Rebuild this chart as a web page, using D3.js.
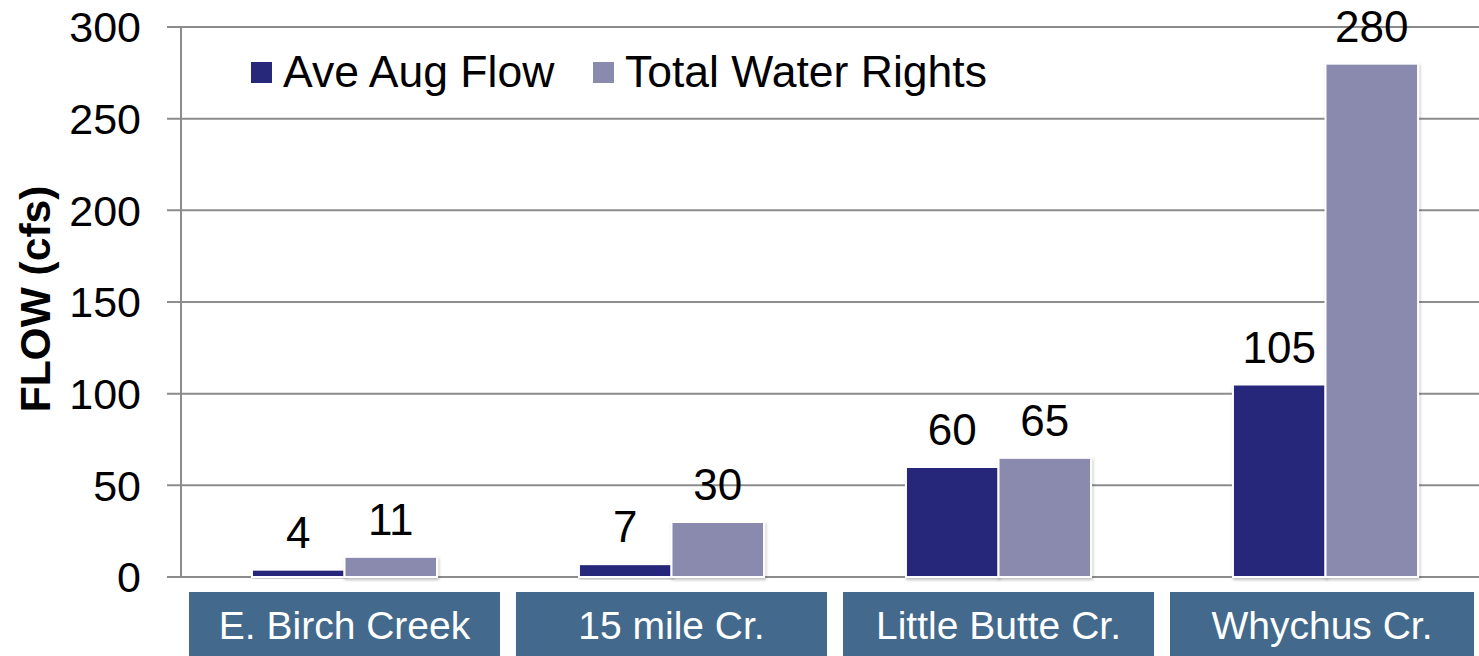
<!DOCTYPE html>
<html>
<head>
<meta charset="utf-8">
<script src="https://cdn.jsdelivr.net/npm/d3@7"></script>
<style>
  body { margin: 0; background: #fff; }
  text { font-family: "Liberation Sans", Arial, sans-serif; }
</style>
</head>
<body>
<svg id="chart" width="1479" height="656"></svg>
<script>
// data
var categories = ["E. Birch Creek", "15 mile Cr.", "Little Butte Cr.", "Whychus Cr."];
var seriesNames = ["Ave Aug Flow", "Total Water Rights"];
var aveAugFlow = [4, 7, 60, 105];
var totalWaterRights = [11, 30, 65, 280];
var yTicks = [0, 50, 100, 150, 200, 250, 300];

var colors = ["#28287a", "#8a8aae"];

var svg = d3.select("#chart"),
    width = +svg.attr("width"),
    height = +svg.attr("height");

var rows = categories.map(function(c, i) {
  return { cat: c, values: [aveAugFlow[i], totalWaterRights[i]] };
});

var x0 = d3.scaleBand()
    .domain(categories)
    .range([181, 1489])
    .paddingInner(0.434)
    .paddingOuter(0.217);

var x1 = d3.scaleBand()
    .domain(d3.range(seriesNames.length))
    .range([0, x0.bandwidth()]);

var y = d3.scaleLinear()
    .domain([0, 300])
    .range([577, 27]);

var defs = svg.append("defs");
var shadow = defs.append("filter").attr("id", "shadow")
    .attr("x", "-10%").attr("y", "-10%").attr("width", "130%").attr("height", "130%");
shadow.append("feDropShadow")
    .attr("dx", 1).attr("dy", 2).attr("stdDeviation", 1.5)
    .attr("flood-color", "#000").attr("flood-opacity", 0.25);

// gridlines
svg.append("g")
  .selectAll("line")
  .data(yTicks)
  .join("line")
    .attr("x1", 167)
    .attr("x2", width)
    .attr("y1", function(d) { return y(d); })
    .attr("y2", function(d) { return y(d); })
    .attr("stroke", "#8c8c8c")
    .attr("stroke-width", 2);

// y axis line
svg.append("line")
    .attr("x1", 181).attr("x2", 181)
    .attr("y1", y(300)).attr("y2", y(0))
    .attr("stroke", "#8c8c8c")
    .attr("stroke-width", 2);

// tick labels
svg.append("g")
  .selectAll("text")
  .data(yTicks)
  .join("text")
    .attr("x", 141)
    .attr("y", function(d) { return y(d); })
    .attr("dy", "0.36em")
    .attr("text-anchor", "end")
    .attr("font-size", 43)
    .attr("fill", "#000")
    .text(function(d) { return d; });

// y axis title
svg.append("text")
    .attr("transform", "translate(50," + 299 + ") rotate(-90)")
    .attr("text-anchor", "middle")
    .attr("font-size", 42.5)
    .attr("font-weight", "bold")
    .attr("fill", "#000")
    .text("FLOW (cfs)");

// bars
var groups = svg.append("g")
  .selectAll("g")
  .data(rows)
  .join("g")
    .attr("transform", function(d) { return "translate(" + x0(d.cat) + ",0)"; });

groups.selectAll("rect")
  .data(function(d) { return d.values.map(function(v, i) { return { i: i, v: v }; }); })
  .join("rect")
    .attr("x", function(d) { return x1(d.i); })
    .attr("y", function(d) { return y(d.v); })
    .attr("width", x1.bandwidth())
    .attr("height", function(d) { return y(0) - y(d.v); })
    .attr("fill", function(d) { return colors[d.i]; })
    .attr("stroke", "#fff")
    .attr("stroke-width", 2)
    .attr("filter", "url(#shadow)");

groups.selectAll("text")
  .data(function(d) { return d.values.map(function(v, i) { return { i: i, v: v }; }); })
  .join("text")
    .attr("x", function(d) { return x1(d.i) + x1.bandwidth() / 2; })
    .attr("y", function(d) { return y(d.v) - 22; })
    .attr("text-anchor", "middle")
    .attr("font-size", 44)
    .attr("fill", "#000")
    .text(function(d) { return d.v; });

// category boxes
var boxW = 311;
function boxLeft(d) { return x0(d) + x0.bandwidth() / 2 - boxW / 2; }
function boxWidth(d) { return Math.min(boxW, width - 5 - boxLeft(d)); }

var cats = svg.append("g")
  .selectAll("g")
  .data(categories)
  .join("g");

cats.append("rect")
    .attr("x", boxLeft)
    .attr("y", 592)
    .attr("width", boxWidth)
    .attr("height", 64)
    .attr("fill", "#436a8c");

cats.append("text")
    .attr("x", function(d) { return boxLeft(d) + boxWidth(d) / 2; })
    .attr("y", 625)
    .attr("dy", "0.36em")
    .attr("text-anchor", "middle")
    .attr("font-size", 39)
    .attr("fill", "#fff")
    .text(function(d) { return d; });

// legend
var legendX = [251, 593];
var legend = svg.append("g")
  .selectAll("g")
  .data(seriesNames)
  .join("g")
    .attr("transform", function(d, i) { return "translate(" + legendX[i] + ",62)"; });

legend.append("rect")
    .attr("width", 21)
    .attr("height", 21)
    .attr("fill", function(d, i) { return colors[i]; });

legend.append("text")
    .attr("x", 32)
    .attr("y", 25)
    .attr("font-size", 44.5)
    .attr("fill", "#000")
    .text(function(d) { return d; });
</script>
</body>
</html>
